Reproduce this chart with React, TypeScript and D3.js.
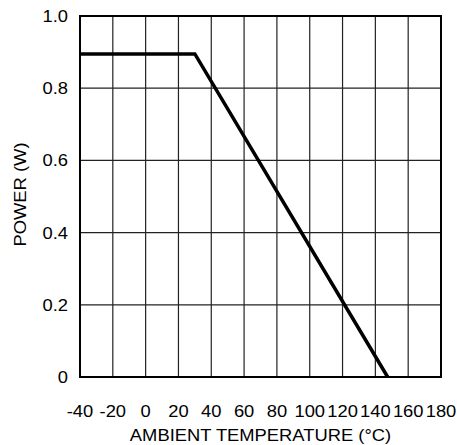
import React from "react";
import * as d3 from "d3";

const xTicks = [-40, -20, 0, 20, 40, 60, 80, 100, 120, 140, 160, 180];
const yTicks = [0, 0.2, 0.4, 0.6, 0.8, 1.0];
const yTickLabels = ["0", "0.2", "0.4", "0.6", "0.8", "1.0"];
const tempC = [-40, 30, 147.5];
const powerW = [0.895, 0.895, 0];

const W = 457, H = 445;
const left = 80, right = 441, top = 16, bottom = 377;
const SX = 1.08;

export default function App() {
  const x = d3.scaleLinear().domain([-40, 180]).range([left, right]);
  const y = d3.scaleLinear().domain([0, 1]).range([bottom, top]);
  const pts: [number, number][] = tempC.map((t, i) => [t, powerW[i]]);
  const line = d3.line<[number, number]>().x(d => x(d[0])).y(d => y(d[1]));
  const font = "'Liberation Sans', Arial, sans-serif";
  return (
    <svg width={W} height={H} style={{ position: "absolute", left: 0, top: 0 }}>
      <rect width={W} height={H} fill="white" />
      {xTicks.slice(1, -1).map(t => (
        <line key={"gx" + t} x1={x(t)} x2={x(t)} y1={top} y2={bottom} stroke="#222" strokeWidth={1.2} />
      ))}
      {yTicks.slice(1, -1).map(t => (
        <line key={"gy" + t} x1={left} x2={right} y1={y(t)} y2={y(t)} stroke="#222" strokeWidth={1.2} />
      ))}
      <rect x={left} y={top} width={right - left} height={bottom - top} fill="none" stroke="#000" strokeWidth={2} />
      <path d={line(pts) || ""} fill="none" stroke="#000" strokeWidth={3.5} strokeLinejoin="miter" />
      {xTicks.map(t => (
        <text key={"xt" + t} transform={`translate(${x(t)},417) scale(${SX},1)`} textAnchor="middle" fontFamily={font} fontSize={17} fill="#000">{t}</text>
      ))}
      {yTicks.map((t, i) => (
        <text key={"yt" + t} transform={`translate(68,${y(t) + 6}) scale(${SX},1)`} textAnchor="end" fontFamily={font} fontSize={17} fill="#000">{yTickLabels[i]}</text>
      ))}
      <text transform={`translate(${(left + right) / 2},441) scale(${SX},1)`} textAnchor="middle" fontFamily={font} fontSize={17} fill="#000">AMBIENT TEMPERATURE (°C)</text>
      <text transform={`translate(26,${(top + bottom) / 2 - 2}) rotate(-90) scale(${SX},1)`} textAnchor="middle" fontFamily={font} fontSize={17} fill="#000">POWER (W)</text>
    </svg>
  );
}
